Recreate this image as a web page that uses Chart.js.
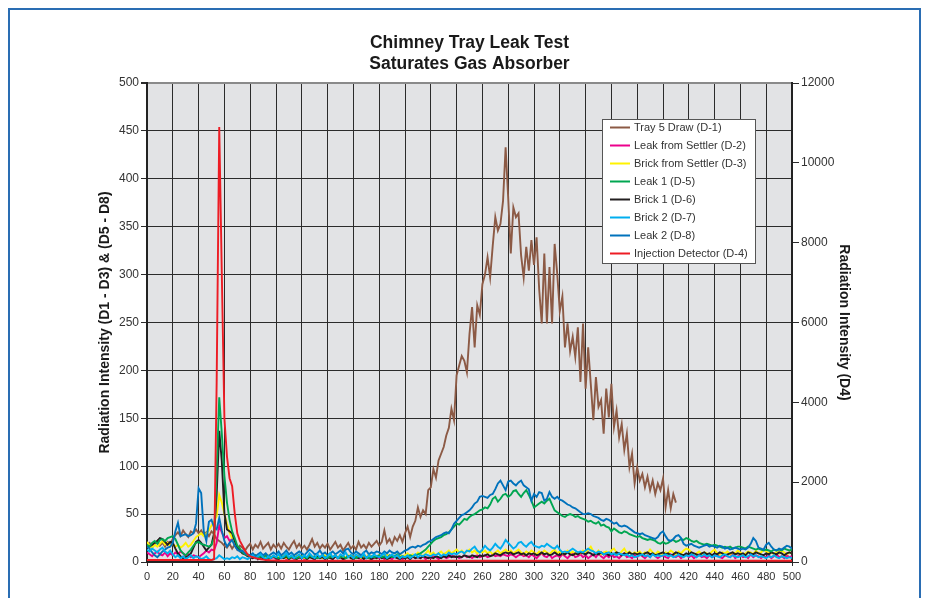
<!DOCTYPE html>
<html>
<head>
<meta charset="utf-8">
<title>Chimney Tray Leak Test</title>
<script src="https://cdn.jsdelivr.net/npm/chart.js@4.4.1/dist/chart.umd.min.js"></script>
<style>
  html, body { margin: 0; padding: 0; background: #fff; }
  #wrap { position: relative; width: 927px; height: 598px; overflow: hidden; }
  #frame { position: absolute; left: 8px; top: 8px; width: 909px; height: 640px; border: 2px solid #2a6db3; }
  #chart { position: absolute; left: 0; top: 0; }
</style>
</head>
<body>
<div id="wrap">
  <div id="frame"></div>
  <canvas id="chart" width="927" height="598"></canvas>
</div>
<script>
const FONT = "'Liberation Sans', Arial, Helvetica, sans-serif";

const titleLines = ['Chimney Tray Leak Test', 'Saturates Gas Absorber'];
const leftAxisTitle = 'Radiation Intensity (D1 - D3) & (D5 - D8)';
const rightAxisTitle = 'Radiation Intensity (D4)';

// readings are taken every 2 units along the x axis (0 .. 500)
const xs = [];
for (let x = 0; x <= 500; x += 2) xs.push(x);

// D-1, only recorded up to 410
const tray5Draw = [
  18, 20, 15, 19, 22, 17, 20, 16, 21, 19,
  24, 28, 31, 27, 33, 29, 26, 32, 30, 34,
  30, 33, 28, 31, 27, 32, 29, 24, 22, 20,
  17, 15, 19, 14, 18, 13, 17, 15, 12, 16,
  19, 13, 18, 15, 21, 14, 17, 20, 13, 18,
  15, 19, 14, 20, 16, 13, 18, 22, 15, 19,
  14, 17, 13, 18, 24, 16, 20, 14, 18, 15,
  19, 13, 17, 21, 15, 18, 12, 16, 20, 14,
  17, 13, 21, 15, 18, 14, 20, 16, 19, 22,
  17, 21, 33, 20, 24, 18, 26, 22, 28, 21,
  30, 37, 26, 37, 43, 57, 47, 54, 50, 75,
  78, 97, 88, 106, 113, 120, 132, 140, 160, 148,
  195, 205, 215, 210, 198, 238, 266, 224, 268, 258,
  290, 300, 318, 297, 330, 360, 346, 353, 377, 433,
  380, 322, 370, 360, 364, 320, 297, 329, 304, 336,
  310, 339, 285, 249, 322, 249, 308, 249, 332, 301,
  262, 277, 224, 249, 220, 235, 214, 245, 188, 249,
  181, 224, 186, 148, 193, 162, 169, 134, 181, 151,
  186, 141, 158, 130, 144, 117, 134, 99, 113, 82,
  99, 85, 92, 78, 89, 75, 85, 71, 82, 75,
  87, 57, 75, 56, 71, 62
];

// D-2
const leakFromSettler = [
  10, 8, 6, 9, 11, 8, 7, 10, 6, 9,
  7, 10, 8, 11, 9, 6, 8, 5, 7, 6,
  5, 7, 9, 12, 10, 13, 12, 20, 38, 31,
  25, 27, 22, 24, 18, 16, 12, 10, 8, 6,
  5, 4, 6, 3, 5, 4, 6, 3, 4, 5,
  3, 5, 4, 6, 3, 4, 5, 3, 6, 4,
  5, 3, 4, 6, 4, 3, 5, 4, 6, 3,
  4, 5, 3, 6, 4, 5, 3, 4, 6, 5,
  3, 5, 4, 3, 6, 4, 5, 3, 4, 5,
  4, 6, 3, 5, 4, 3, 6, 4, 5, 3,
  4, 5, 3, 6, 4, 5, 4, 6, 3, 5,
  4, 6, 5, 3, 5, 6, 4, 5, 7, 5,
  6, 4, 5, 7, 5, 6, 4, 6, 7, 5,
  6, 7, 5, 6, 8, 6, 7, 6, 8, 7,
  6, 8, 7, 5, 7, 8, 6, 7, 5, 8,
  6, 4, 7, 9, 6, 5, 8, 4, 6, 7,
  5, 8, 6, 4, 7, 9, 5, 6, 8, 5,
  7, 4, 6, 8, 5, 9, 6, 4, 7, 5,
  8, 5, 6, 4, 7, 9, 5, 6, 4, 7,
  5, 8, 6, 4, 7, 5, 9, 6, 4, 6,
  7, 5, 4, 8, 6, 5, 7, 4, 6, 8,
  5, 7, 4, 6, 8, 5, 6, 4, 7, 5,
  6, 8, 5, 4, 7, 6, 5, 8, 4, 6,
  7, 5, 6, 4, 8, 5, 7, 6, 4, 6,
  5, 7, 4, 6, 8, 5, 6, 4, 7, 5,
  6
];

// D-3
const brickFromSettler = [
  21, 17, 15, 18, 16, 19, 22, 18, 20, 17,
  19, 16, 18, 15, 17, 20, 16, 18, 22, 26,
  28, 30, 27, 30, 33, 38, 42, 48, 70, 62,
  50, 40, 31, 25, 18, 16, 13, 11, 10, 8,
  6, 5, 7, 4, 6, 5, 4, 7, 5, 6,
  4, 6, 5, 7, 4, 5, 6, 4, 7, 5,
  6, 4, 5, 7, 5, 4, 6, 5, 4, 7,
  5, 6, 4, 7, 5, 6, 4, 5, 7, 4,
  6, 5, 7, 4, 6, 5, 8, 5, 6, 4,
  7, 5, 6, 8, 5, 7, 6, 5, 8, 6,
  7, 9, 6, 8, 7, 10, 8, 6, 9, 12,
  8, 10, 7, 9, 11, 8, 10, 12, 9, 11,
  13, 10, 12, 9, 11, 13, 10, 12, 9, 11,
  10, 12, 9, 11, 8, 10, 12, 9, 11, 13,
  10, 12, 9, 11, 13, 10, 8, 11, 9, 12,
  10, 8, 11, 9, 12, 10, 8, 11, 13, 9,
  11, 8, 10, 12, 9, 11, 8, 10, 9, 12,
  10, 13, 16, 11, 9, 12, 8, 10, 11, 9,
  12, 14, 10, 8, 11, 14, 9, 11, 8, 10,
  9, 11, 8, 10, 9, 13, 10, 8, 11, 9,
  8, 10, 9, 12, 10, 8, 11, 9, 12, 14,
  13, 10, 8, 9, 11, 8, 10, 9, 8, 11,
  13, 9, 8, 10, 9, 11, 8, 10, 9, 12,
  10, 8, 9, 11, 10, 8, 12, 9, 10, 13,
  11, 9, 10, 8, 11, 9, 12, 10, 8, 10,
  9
];

// D-5
const leak1 = [
  18, 16, 20, 22, 19, 23, 24, 22, 25, 26,
  27, 24, 18, 12, 9, 7, 10, 13, 17, 20,
  21, 19, 18, 17, 16, 18, 25, 95, 172, 134,
  90, 62, 44, 32, 25, 17, 14, 10, 8, 7,
  6, 5, 7, 4, 6, 5, 7, 4, 5, 6,
  5, 4, 6, 5, 7, 4, 5, 6, 4, 5,
  6, 5, 4, 7, 5, 6, 4, 5, 7, 5,
  4, 6, 5, 7, 4, 5, 6, 4, 5, 7,
  5, 4, 6, 5, 7, 5, 4, 6, 5, 6,
  7, 5, 6, 4, 7, 5, 6, 8, 5, 6,
  5, 6, 7, 6, 7, 8, 9, 11, 13, 16,
  19, 22, 24, 25, 26, 28, 29, 31, 34, 37,
  40, 39, 42, 45, 44, 47, 49, 50, 52, 54,
  55, 57, 56, 60, 66, 68, 63, 66, 70, 71,
  68, 70, 74, 75, 71, 68, 72, 75, 70, 64,
  57, 59, 61, 63, 61, 64, 66, 60, 54, 52,
  50, 48, 47, 49, 50, 49, 47, 48, 46, 45,
  44, 42, 43, 41, 40, 42, 38, 39, 37, 36,
  32, 35, 33, 31, 30, 32, 31, 29, 28, 27,
  26, 27, 25, 24, 23, 24, 23, 22, 20, 19,
  21, 19, 20, 22, 23, 21, 22, 24, 23, 25,
  24, 22, 21, 22, 20, 19, 18, 19, 18, 17,
  18, 17, 16, 15, 16, 15, 16, 14, 15, 16,
  16, 15, 14, 16, 15, 14, 13, 14, 13, 12,
  13, 12, 11, 13, 12, 13, 12, 14, 13, 12,
  13
];

// D-6
const brick1 = [
  17, 16, 18, 20, 22, 25, 24, 21, 18, 21,
  20, 14, 9, 6, 4, 5, 6, 9, 15, 21,
  23, 20, 16, 12, 15, 18, 30, 70, 137, 105,
  51, 34, 32, 30, 22, 15, 12, 9, 8, 6,
  5, 4, 6, 3, 5, 4, 3, 5, 4, 6,
  4, 3, 5, 4, 6, 3, 5, 4, 3, 5,
  4, 6, 3, 5, 4, 3, 6, 4, 5, 3,
  5, 4, 3, 6, 4, 5, 3, 4, 6, 4,
  3, 5, 4, 6, 3, 5, 4, 3, 5, 4,
  6, 4, 5, 3, 4, 6, 5, 4, 3, 5,
  4, 5, 3, 6, 4, 5, 4, 6, 5, 4,
  5, 4, 6, 5, 4, 6, 5, 7, 5, 6,
  5, 6, 5, 7, 6, 5, 7, 6, 5, 7,
  6, 7, 8, 6, 7, 9, 8, 7, 9, 10,
  9, 10, 8, 9, 10, 8, 9, 7, 9, 8,
  9, 7, 8, 10, 8, 9, 7, 8, 10, 8,
  7, 9, 8, 10, 8, 7, 9, 8, 10, 9,
  8, 10, 9, 7, 9, 8, 10, 8, 9, 7,
  9, 8, 10, 9, 7, 9, 8, 10, 8, 9,
  8, 9, 7, 9, 10, 8, 9, 7, 8, 9,
  10, 8, 9, 7, 8, 10, 9, 8, 7, 9,
  8, 10, 9, 8, 7, 9, 10, 8, 9, 7,
  9, 8, 10, 9, 7, 8, 9, 10, 8, 9,
  8, 9, 7, 10, 9, 8, 10, 9, 8, 7,
  9, 8, 10, 9, 8, 10, 9, 7, 9, 10,
  9
];

// D-7
const brick2 = [
  13, 11, 14, 12, 10, 13, 15, 11, 9, 12,
  8, 5, 7, 4, 6, 3, 5, 7, 4, 6,
  5, 3, 4, 6, 3, 2, 3, 4, 7, 5,
  3, 4, 3, 5, 4, 6, 3, 5, 4, 3,
  5, 7, 4, 6, 8, 5, 3, 6, 4, 7,
  5, 8, 4, 6, 9, 5, 7, 4, 6, 8,
  4, 7, 5, 9, 6, 4, 8, 5, 7, 4,
  6, 9, 5, 7, 4, 8, 6, 10, 5, 7,
  4, 8, 6, 5, 9, 4, 7, 5, 8, 6,
  5, 7, 9, 4, 6, 8, 5, 7, 4, 6,
  5, 7, 4, 6, 8, 5, 7, 6, 8, 7,
  6, 8, 7, 9, 6, 8, 7, 10, 8, 9,
  8, 10, 11, 9, 12, 11, 14, 16, 12, 10,
  13, 17, 14, 12, 15, 19, 16, 14, 18, 23,
  20, 17, 14, 16, 20, 21, 18, 16, 19, 21,
  17, 16, 15, 17, 16, 19, 17, 15, 14, 17,
  13, 10, 11, 10, 12, 14, 12, 10, 11, 10,
  12, 14, 12, 11, 9, 11, 10, 8, 9, 10,
  8, 9, 7, 9, 8, 7, 8, 6, 7, 5,
  6, 7, 8, 6, 7, 5, 8, 6, 7, 6,
  7, 8, 6, 7, 5, 6, 8, 6, 5, 7,
  6, 8, 7, 5, 7, 6, 8, 6, 7, 5,
  7, 6, 5, 7, 8, 6, 5, 7, 6, 5,
  6, 7, 5, 6, 8, 6, 7, 5, 6, 5,
  4, 6, 5, 7, 5, 4, 6, 5, 4, 5,
  4
];

// D-8
const leak2 = [
  16, 14, 10, 7, 5, 8, 11, 13, 15, 16,
  20, 32, 41, 27, 28, 29, 27, 28, 30, 40,
  77, 72, 32, 22, 42, 44, 36, 34, 46, 33,
  22, 16, 20, 23, 17, 13, 11, 12, 9, 8,
  7, 9, 6, 8, 10, 7, 9, 6, 8, 10,
  8, 11, 7, 9, 12, 8, 10, 7, 9, 11,
  9, 7, 10, 13, 11, 8, 9, 12, 8, 10,
  7, 9, 11, 8, 10, 12, 9, 13, 14, 10,
  8, 11, 9, 7, 10, 12, 8, 10, 9, 11,
  10, 8, 11, 9, 12, 10, 9, 11, 8, 10,
  12, 13, 15, 16, 15, 17, 16, 18, 19, 21,
  22, 24, 26, 27, 28, 30, 31, 30, 34, 40,
  43, 46, 49, 50, 52, 54, 57, 61, 63, 68,
  69, 68, 67, 70, 71, 76, 82, 85, 80, 75,
  84, 85, 82, 80, 83, 85, 80, 78, 76, 64,
  71, 68, 73, 72, 64, 66, 73, 68, 66, 68,
  65, 64, 62, 60, 59, 57, 56, 54, 52, 50,
  50, 51, 50, 48, 47, 46, 44, 43, 45, 44,
  42, 40, 41, 38, 37, 38, 37, 35, 33, 31,
  30, 29, 30, 28, 27, 26, 25, 24, 26, 30,
  32, 27, 23, 22, 24, 27, 28, 25, 19, 17,
  18, 19, 17, 16, 15, 16, 17, 18, 16, 17,
  16, 15, 17, 16, 14, 15, 13, 14, 15, 14,
  13, 14, 13, 15, 19, 25, 22, 15, 14, 13,
  18, 20, 16, 13, 12, 14, 13, 15, 17, 16,
  14
];

// D-4, read on the right axis
const injectionDetector = [
  50, 50, 50, 50, 50, 50, 50, 50, 50, 50,
  50, 50, 50, 50, 50, 50, 50, 50, 50, 50,
  50, 50, 50, 50, 50, 50, 70, 4500, 10900, 7200,
  3600, 2640, 2100, 1900, 1220, 720, 530, 410, 290, 190,
  140, 120, 100, 85, 70, 60, 50, 45, 40, 40,
  35, 35, 30, 30, 30, 30, 30, 30, 30, 30,
  30, 30, 30, 30, 30, 30, 30, 30, 30, 30,
  30, 30, 30, 30, 30, 30, 30, 30, 30, 30,
  30, 30, 30, 30, 30, 30, 30, 30, 30, 30,
  30, 30, 30, 30, 30, 30, 30, 30, 30, 30,
  30, 30, 30, 30, 30, 30, 30, 30, 30, 30,
  30, 30, 30, 30, 30, 30, 30, 30, 30, 30,
  30, 30, 30, 30, 30, 30, 30, 30, 30, 30,
  30, 30, 30, 30, 30, 30, 30, 30, 30, 30,
  30, 30, 30, 30, 30, 30, 30, 30, 30, 30,
  30, 30, 30, 30, 30, 30, 30, 30, 30, 30,
  30, 30, 30, 30, 30, 30, 30, 30, 30, 30,
  30, 30, 30, 30, 30, 30, 30, 30, 30, 30,
  30, 30, 30, 30, 30, 30, 30, 30, 30, 30,
  30, 30, 30, 30, 30, 30, 30, 30, 30, 30,
  30, 30, 30, 30, 30, 30, 30, 30, 30, 30,
  30, 30, 30, 30, 30, 30, 30, 30, 30, 30,
  30, 30, 30, 30, 30, 30, 30, 30, 30, 30,
  30, 30, 30, 30, 30, 30, 30, 30, 30, 30,
  30, 30, 30, 30, 30, 30, 30, 30, 30, 30,
  30
];

const series = [
  { label: 'Tray 5 Draw (D-1)', values: tray5Draw, color: '#8c5a45', axis: 'y', order: 7 },
  { label: 'Leak from Settler (D-2)', values: leakFromSettler, color: '#ec008c', axis: 'y', order: 6 },
  { label: 'Brick from Settler (D-3)', values: brickFromSettler, color: '#fff200', axis: 'y', order: 5 },
  { label: 'Leak 1 (D-5)', values: leak1, color: '#00a651', axis: 'y', order: 3 },
  { label: 'Brick 1 (D-6)', values: brick1, color: '#231f20', axis: 'y', order: 4 },
  { label: 'Brick 2 (D-7)', values: brick2, color: '#00aeef', axis: 'y', order: 1 },
  { label: 'Leak 2 (D-8)', values: leak2, color: '#0072bc', axis: 'y', order: 2 },
  { label: 'Injection Detector (D-4)', values: injectionDetector, color: '#ed1c24', axis: 'y2', order: 0 }
];

const datasets = series.map(s => ({
  label: s.label,
  data: s.values.map((v, i) => ({ x: xs[i], y: v })),
  yAxisID: s.axis,
  order: s.order,
  borderColor: s.color,
  backgroundColor: s.color,
  borderWidth: 1.9,
  pointRadius: 0,
  tension: 0,
  fill: false
}));

// grey plot area
const plotBackground = {
  id: 'plotBackground',
  beforeDraw(chart) {
    const { ctx, chartArea: a } = chart;
    ctx.save();
    ctx.fillStyle = '#e2e3e5';
    ctx.fillRect(a.left, a.top, a.right - a.left, a.bottom - a.top);
    ctx.restore();
  }
};

// boxed legend sitting inside the plot, top right
const boxLegend = {
  id: 'boxLegend',
  afterDatasetsDraw(chart) {
    const { ctx, chartArea } = chart;
    const left = chartArea.right - 190;
    const top = chartArea.top + 36;
    const rowH = 18;
    const w = 153;
    const h = rowH * chart.data.datasets.length;
    ctx.save();
    ctx.fillStyle = '#fff';
    ctx.fillRect(left, top, w, h);
    ctx.strokeStyle = '#555';
    ctx.lineWidth = 1;
    ctx.strokeRect(left + 0.5, top + 0.5, w, h);
    ctx.font = '11px ' + FONT;
    ctx.textBaseline = 'middle';
    ctx.textAlign = 'left';
    chart.data.datasets.forEach((ds, i) => {
      const y = top + 8.5 + i * rowH;
      ctx.strokeStyle = ds.borderColor;
      ctx.lineWidth = 2;
      ctx.beginPath();
      ctx.moveTo(left + 8, y);
      ctx.lineTo(left + 28, y);
      ctx.stroke();
      ctx.fillStyle = '#333';
      ctx.fillText(ds.label, left + 32, y);
    });
    ctx.restore();
  }
};

const tickFont = { family: FONT, size: 12 };
const gridDark = '#2b2b2b';

new Chart(document.getElementById('chart'), {
  type: 'line',
  data: { datasets },
  options: {
    responsive: false,
    animation: false,
    events: [],
    layout: { padding: 0 },
    plugins: {
      legend: { display: false },
      tooltip: { enabled: false },
      title: {
        display: true,
        text: titleLines,
        fullSize: false,
        color: '#1a1a1a',
        font: { family: FONT, size: 17.5, weight: 'bold', lineHeight: 1.22 },
        padding: { top: 32, bottom: 8.3 }
      }
    },
    scales: {
      x: {
        type: 'linear',
        min: 0,
        max: 500,
        ticks: { stepSize: 20, autoSkip: false, maxRotation: 0, color: '#333', font: { family: FONT, size: 11 }, padding: 4 },
        grid: { color: gridDark, lineWidth: 1, tickLength: 4, tickColor: gridDark },
        border: { color: '#222', width: 2 },
        afterFit: s => { s.height = 36; }
      },
      y: {
        position: 'left',
        min: 0,
        max: 500,
        ticks: { stepSize: 50, color: '#333', font: tickFont, padding: 2 },
        grid: {
          color: c => (c.tick && c.tick.value === 500 ? '#8a8a8a' : gridDark),
          lineWidth: c => (c.tick && c.tick.value === 500 ? 2 : 1),
          tickLength: 6,
          tickColor: gridDark
        },
        border: { color: '#222', width: 2 },
        title: {
          display: true,
          text: leftAxisTitle,
          color: '#1a1a1a',
          font: { family: FONT, size: 14, weight: 'bold', lineHeight: 1.2 },
          padding: { top: 97, bottom: 0 }
        },
        afterFit: s => { s.width = 147; }
      },
      y2: {
        position: 'right',
        min: 0,
        max: 12000,
        ticks: { stepSize: 2000, color: '#333', font: tickFont, padding: 2, callback: v => String(v) },
        grid: { drawOnChartArea: false, tickLength: 7, color: gridDark, tickColor: gridDark },
        border: { color: '#222', width: 2 },
        title: {
          display: true,
          text: rightAxisTitle,
          color: '#1a1a1a',
          font: { family: FONT, size: 14, weight: 'bold', lineHeight: 1.2 },
          padding: { top: 75, bottom: 0 }
        },
        afterFit: s => { s.width = 135; }
      }
    }
  },
  plugins: [plotBackground, boxLegend]
});
</script>
</body>
</html>
